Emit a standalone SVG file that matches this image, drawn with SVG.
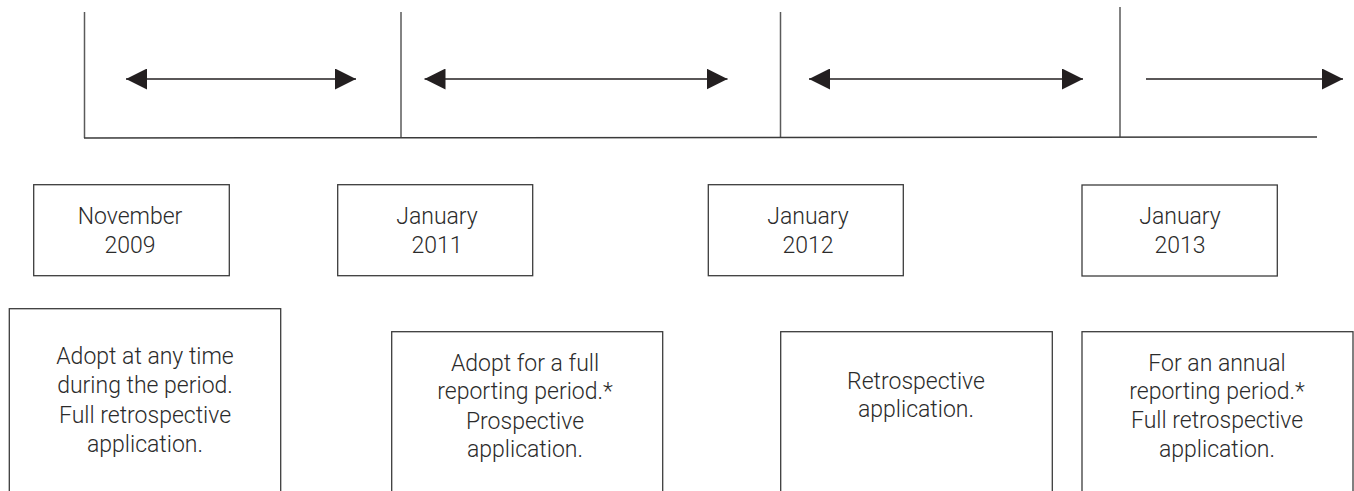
<svg xmlns="http://www.w3.org/2000/svg" width="1354" height="491" viewBox="0 0 1354 491">
  <style>
    .frame { stroke: #5a5a5a; stroke-width: 1.5; fill: none; }
    .axis { stroke: #3a3a3a; stroke-width: 1.5; fill: none; }
    .span { stroke: #231f20; stroke-width: 1.6; fill: none; }
    .box { fill: #ffffff; stroke: #3c3c3c; stroke-width: 1.3; }
    .label { font-family: Roboto, Lato, "Liberation Sans", sans-serif; font-weight: 300; font-size: 23px; fill: #2b2b2b; text-anchor: middle; }
  </style>
  <defs>
    <marker id="head" viewBox="0 0 21 21" refX="21" refY="10.5" markerWidth="21" markerHeight="21" markerUnits="userSpaceOnUse" orient="auto-start-reverse">
      <path d="M0,0 L21,10.5 L0,21 Z" fill="#231f20"/>
    </marker>
  </defs>

  <rect width="1354" height="491" fill="#ffffff"/>

  <!-- timeline axis with period dividers -->
  <g id="timeline">
    <line class="frame" x1="84.5" y1="12" x2="84.5" y2="138"/>
    <line class="frame" x1="401" y1="12" x2="401" y2="138"/>
    <line class="frame" x1="780.5" y1="12" x2="780.5" y2="138"/>
    <line class="frame" x1="1120" y1="7" x2="1120" y2="137"/>
    <line class="axis" x1="84" y1="138" x2="1317" y2="137"/>
  </g>

  <!-- period spans -->
  <g id="connectors">
    <line class="span" x1="126" y1="79" x2="356" y2="79" marker-start="url(#head)" marker-end="url(#head)"/>
    <line class="span" x1="424.5" y1="79" x2="727.5" y2="79" marker-start="url(#head)" marker-end="url(#head)"/>
    <line class="span" x1="809" y1="79" x2="1083" y2="79" marker-start="url(#head)" marker-end="url(#head)"/>
    <line class="span" x1="1146" y1="79" x2="1343" y2="79" marker-end="url(#head)"/>
  </g>

  <!-- date boxes -->
  <g id="date-nov-2009">
    <rect class="box" x="33.7" y="184.7" width="195.6" height="91"/>
    <text class="label" x="130" y="224">November</text>
    <text class="label" x="130" y="252.7">2009</text>
  </g>
  <g id="date-jan-2011">
    <rect class="box" x="337.7" y="184.7" width="195" height="91"/>
    <text class="label" x="437" y="224">January</text>
    <text class="label" x="437" y="252.7">2011</text>
  </g>
  <g id="date-jan-2012">
    <rect class="box" x="708.3" y="184.7" width="195" height="91"/>
    <text class="label" x="808" y="224">January</text>
    <text class="label" x="808" y="252.7">2012</text>
  </g>
  <g id="date-jan-2013">
    <rect class="box" x="1082" y="185" width="195.3" height="91"/>
    <text class="label" x="1180" y="224">January</text>
    <text class="label" x="1180" y="252.7">2013</text>
  </g>

  <!-- rule boxes (run past the lower edge) -->
  <g id="rule-1">
    <rect class="box" x="9.3" y="308.7" width="271.4" height="200"/>
    <text class="label" x="145" y="364">Adopt at any time</text>
    <text class="label" x="145" y="393">during the period.</text>
    <text class="label" x="145" y="422.5">Full retrospective</text>
    <text class="label" x="145" y="451.5">application.</text>
  </g>
  <g id="rule-2">
    <rect class="box" x="391.7" y="331.7" width="271" height="200"/>
    <text class="label" x="525" y="370.5">Adopt for a full</text>
    <text class="label" x="525" y="399">reporting period.*</text>
    <text class="label" x="525" y="428.5">Prospective</text>
    <text class="label" x="525" y="457">application.</text>
  </g>
  <g id="rule-3">
    <rect class="box" x="780.7" y="331.7" width="271.6" height="200"/>
    <text class="label" x="916" y="389.3">Retrospective</text>
    <text class="label" x="916" y="416.7">application.</text>
  </g>
  <g id="rule-4">
    <rect class="box" x="1082" y="331.7" width="271" height="200"/>
    <text class="label" x="1217" y="370.7">For an annual</text>
    <text class="label" x="1217" y="399.3">reporting period.*</text>
    <text class="label" x="1217" y="428.3">Full retrospective</text>
    <text class="label" x="1217" y="456.7">application.</text>
  </g>
</svg>
